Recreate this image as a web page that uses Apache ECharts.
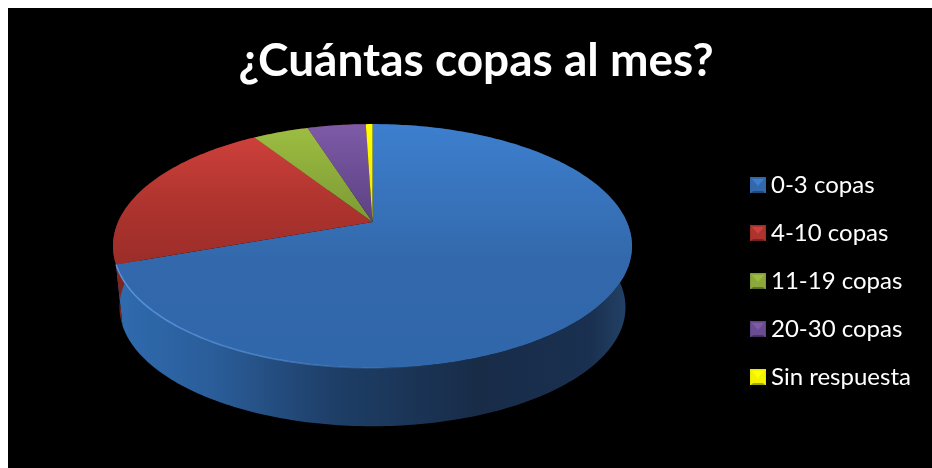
<!DOCTYPE html>
<html>
<head>
<meta charset="utf-8">
<style>html,body{margin:0;padding:0;background:#fff}#chart{width:932px;height:468px}</style>
<script src="https://cdn.jsdelivr.net/npm/echarts@6/dist/echarts.min.js"></script>
</head>
<body>
<div id="chart"></div>
<script>
const titleText = '¿Cuántas copas al mes?';
const categories = ['0-3 copas', '4-10 copas', '11-19 copas', '20-30 copas', 'Sin respuesta'];
const shares = [69.5, 21.4, 4.2, 4.4, 0.5];
const topLight = ['#3d7fce', '#cd403b', '#9cbd41', '#7e5ba8', '#ffff00'];
const topMid = ['#3369ac', '#ad332e', '#8aa93a', '#6a4c93', '#f2f200'];
const topDark = ['#3067aa', '#9c2d29', '#7d9a34', '#5d4283', '#e6e600'];

// Perspective disc: a unit circle projected so its centre lands on the apex.
const disc = { cx: 372.5, apexY: 222, a: 254.4, b: 117.2, k: -0.197 };
const rim = { scale: 0.975, drop: 59 };
const total = shares.reduce((s, v) => s + v, 0);

function project(deg, isBase) {
  const t = deg * Math.PI / 180;
  const u = Math.sin(t), v = -Math.cos(t);
  const w = 1 + disc.k * v;
  const s = isBase ? rim.scale : 1;
  const baseShift = isBase ? rim.drop + (1 - rim.scale) * disc.b : 0;
  return [disc.cx + s * disc.a * u / w, disc.apexY + s * disc.b * v / w + baseShift];
}

function arc(from, to, isBase) {
  const pts = [];
  const n = Math.max(2, Math.ceil(Math.abs(to - from)));
  for (let i = 0; i <= n; i++) pts.push(project(from + (to - from) * i / n, isBase));
  return pts;
}

function sideFill(i) {
  if (i !== 0) {
    return { type: 'linear', x: 0, y: 0, x2: 1, y2: 0, colorStops: [
      { offset: 0, color: '#7e2622' }, { offset: 1, color: '#5e1c19' }] };
  }
  return { type: 'linear', global: true, x: 113, y: 0, x2: 632, y2: 0, colorStops: [
    { offset: 0, color: '#2f6cb0' }, { offset: 0.2, color: '#2a5c98' },
    { offset: 0.42, color: '#1e3f68' }, { offset: 0.7, color: '#182c48' },
    { offset: 0.92, color: '#1a3050' }, { offset: 1, color: '#234468' }] };
}

function sliceRenderer(index) {
  return function (params, api) {
    const before = shares.slice(0, index).reduce((s, v) => s + v, 0);
    const from = before / total * 360;
    const to = from + api.value(0) / total * 360;
    const topEdge = arc(from, to, false);
    const baseEdge = arc(from, to, true);
    const children = [{
      type: 'polygon', z2: 1,
      shape: { points: topEdge.concat(baseEdge.slice().reverse()) },
      style: { fill: sideFill(index) }
    }, {
      type: 'polygon', z2: 10,
      shape: { points: [[disc.cx, disc.apexY]].concat(topEdge) },
      style: { fill: { type: 'linear', x: 0, y: 0, x2: 0, y2: 1, colorStops: [
        { offset: 0, color: topLight[index] }, { offset: 0.55, color: topMid[index] },
        { offset: 1, color: topDark[index] }] } }
    }];
    if (index === 0) {
      // Bright lip along the front edge of the largest slice.
      children.push({
        type: 'polyline', z2: 11,
        shape: { points: arc(from + 170, to, false) },
        style: { fill: 'none', lineWidth: 1.5, stroke: { type: 'linear', x: 1, y: 0, x2: 0, y2: 0, colorStops: [
          { offset: 0, color: 'rgba(90,150,225,0)' }, { offset: 0.5, color: 'rgba(90,150,225,0.65)' },
          { offset: 1, color: 'rgba(95,155,230,0.9)' }] } }
      });
    }
    return { type: 'group', children };
  };
}

// Raised square swatch: bright top wedge, mid-tone flanks, dark bottom lip.
function bevelIcon(light, mid, dark) {
  const svg = `<svg xmlns="http://www.w3.org/2000/svg" width="16" height="16">` +
    `<rect width="16" height="16" fill="${dark}"/>` +
    `<rect x="0.5" y="0.5" width="15" height="15" fill="${mid}" stroke="${dark}" stroke-opacity="0.7"/>` +
    `<polygon points="2,2 14,2 8,9" fill="${light}"/>` +
    `<polygon points="3,14 13,14 15,16 1,16" fill="#000000" fill-opacity="0.3"/></svg>`;
  return 'image://data:image/svg+xml;charset=utf-8,' + encodeURIComponent(svg);
}

const chart = echarts.init(document.getElementById('chart'), null, { renderer: 'canvas' });
chart.setOption({
  animation: false,
  backgroundColor: '#ffffff',
  graphic: [{ type: 'rect', silent: true, z: -10, shape: { x: 8, y: 8, width: 924, height: 460 }, style: { fill: '#000000' } }],
  title: {
    text: titleText, left: 471, top: 33, textAlign: 'center',
    textStyle: { color: '#ffffff', fontFamily: 'Lato', fontWeight: 'bold', fontSize: 46 }
  },
  legend: {
    orient: 'vertical', left: 750, top: 173, itemWidth: 16, itemHeight: 16, itemGap: 24, padding: 0,
    selectedMode: false,
    textStyle: { color: '#ffffff', fontFamily: 'Lato', fontSize: 24, lineHeight: 16 },
    data: categories.map((name, i) => ({ name, icon: bevelIcon(topLight[i], topMid[i], topDark[i]) }))
  },
  series: categories.map((name, i) => ({
    type: 'custom', name, coordinateSystem: 'none', silent: true,
    itemStyle: { color: topLight[i] },
    data: [shares[i]],
    renderItem: sliceRenderer(i)
  }))
});
</script>
</body>
</html>
